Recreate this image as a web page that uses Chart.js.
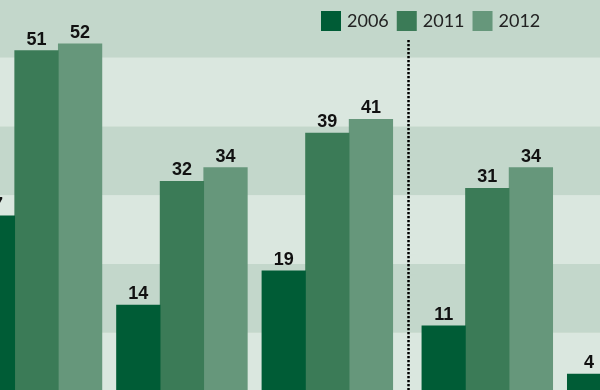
<!DOCTYPE html>
<html><head><meta charset="utf-8">
<script src="https://cdn.jsdelivr.net/npm/chart.js@4/dist/chart.umd.min.js"></script>
<style>html,body{margin:0;padding:0;background:#dbe7df;overflow:hidden}canvas{display:block}</style>
</head><body>
<canvas id="c" width="600" height="390"></canvas>
<script>
// ---- data ----
const categories = ['Group 1', 'Group 2', 'Group 3', 'Group 4', 'Group 5'];
const seriesNames = ['2006', '2011', '2012'];
const values2006 = [27, 14, 19, 11, 4];
const values2011 = [51, 32, 39, 31, null];
const values2012 = [52, 34, 41, 34, null];
const bandTicks = [0, 10, 20, 30, 40, 50, 60];

// ---- styles ----
const seriesColors = ['#005c36', '#3b7b57', '#66977b'];
const bandLight = '#dae7df';
const bandDark = '#c3d7cb';
const SEPARATOR_AFTER = 2;   // dotted separator sits after this group index
const SEPARATOR_GAP = 0.1;   // extra spacing (in group units) after separator

function groupX(i) { return i + (i > SEPARATOR_AFTER ? SEPARATOR_GAP : 0); }
function toPoints(arr) { return arr.map((v, i) => ({ x: groupX(i), y: v })); }

const bandsPlugin = {
  id: 'bands',
  beforeDatasetsDraw(chart) {
    const { ctx, chartArea, scales: { y } } = chart;
    ctx.save();
    for (let k = 0; k < bandTicks.length - 1; k++) {
      const top = y.getPixelForValue(bandTicks[k + 1]);
      const bot = y.getPixelForValue(bandTicks[k]);
      ctx.fillStyle = k % 2 === 0 ? bandLight : bandDark;
      ctx.fillRect(chartArea.left, top, chartArea.right - chartArea.left, bot - top);
    }
    ctx.restore();
  }
};

const overlayPlugin = {
  id: 'overlay',
  afterDatasetsDraw(chart) {
    const { ctx, scales: { x }, chartArea } = chart;
    ctx.save();
    // dotted separator
    const sx = x.getPixelForValue((groupX(SEPARATOR_AFTER) + groupX(SEPARATOR_AFTER + 1)) / 2) + 1.2;
    ctx.strokeStyle = '#000000';
    ctx.lineWidth = 2.5;
    ctx.setLineDash([2.3, 1.7]);
    ctx.beginPath();
    ctx.moveTo(sx, 40);
    ctx.lineTo(sx, chartArea.bottom);
    ctx.stroke();
    ctx.setLineDash([]);
    // value labels
    ctx.font = 'bold 18px "Liberation Sans"';
    ctx.fillStyle = '#111111';
    ctx.textAlign = 'center';
    ctx.textBaseline = 'alphabetic';
    chart.data.datasets.forEach((ds, di) => {
      const meta = chart.getDatasetMeta(di);
      meta.data.forEach((bar, i) => {
        const v = ds.data[i].y;
        if (v === null || v === undefined) return;
        ctx.fillText(String(v), bar.x, bar.y - 6);
      });
    });
    ctx.restore();
  },
  afterDraw(chart) {
    const { ctx } = chart;
    ctx.save();
    ctx.font = '18px Lato';
    ctx.textAlign = 'left';
    ctx.textBaseline = 'alphabetic';
    let lx = 321;
    chart.data.datasets.forEach((ds) => {
      ctx.fillStyle = ds.backgroundColor;
      ctx.fillRect(lx, 11, 20, 20);
      ctx.fillStyle = '#222222';
      const tx = lx + 26;
      ctx.fillText(ds.label, tx, 27);
      lx = tx + ctx.measureText(ds.label).width + 8;
    });
    ctx.restore();
  }
};

const seriesValues = [values2006, values2011, values2012];

new Chart(document.getElementById('c'), {
  type: 'bar',
  data: {
    labels: categories,
    datasets: seriesNames.map((name, i) => ({
      label: name,
      data: toPoints(seriesValues[i]),
      backgroundColor: seriesColors[i],
      borderWidth: 0,
      barThickness: 43.6
    }))
  },
  options: {
    responsive: false,
    animation: false,
    devicePixelRatio: 1,
    events: [],
    layout: { padding: 0 },
    plugins: { legend: { display: false }, tooltip: { enabled: false } },
    scales: {
      x: { type: 'linear', display: false, min: -0.251, max: 3.875, offset: false, grid: { display: false } },
      y: { type: 'linear', display: false, min: 1.67, max: 58.36, grid: { display: false } }
    }
  },
  plugins: [bandsPlugin, overlayPlugin]
});
</script>
</body></html>
